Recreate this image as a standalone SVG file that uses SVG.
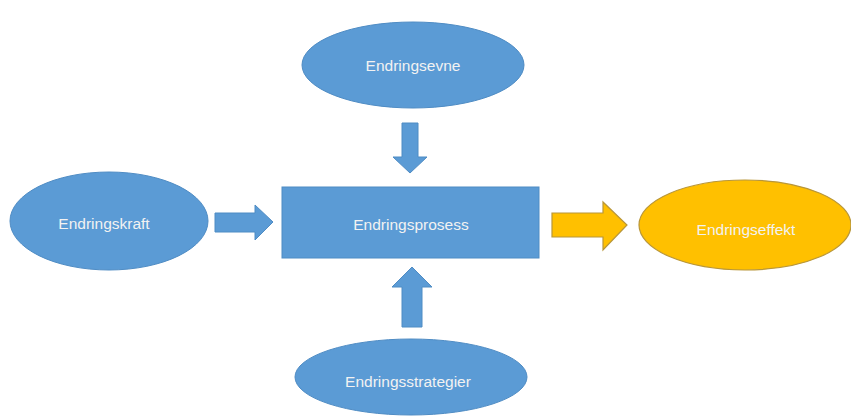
<svg xmlns="http://www.w3.org/2000/svg" width="851" height="416" viewBox="0 0 851 416">
<style>
.b{fill:#5B9BD5;stroke:#4F8CC4;stroke-width:1}
.y{fill:#FFC000;stroke:#B8963A;stroke-width:1.2}
.t{font-family:"Liberation Sans",Arial,sans-serif;font-size:15.5px;fill:#F2F2F2;text-anchor:middle;dominant-baseline:central}
</style>
<rect width="851" height="416" fill="#FFFFFF"/>
<g id="connectors">
<polygon class="b" points="402,123 418,123 418,157 427,157 410,173 393,157 402,157"/>
<polygon class="b" points="402,327 422,327 422,287 432,287 412,267 392,287 402,287"/>
<polygon class="b" points="215,213 255,213 255,205 273,222 255,240 255,232 215,232"/>
<polygon class="y" points="552,213 603,213 603,202 627,225 603,250 603,237 552,237"/>
</g>
<g id="endringsevne">
<ellipse class="b" cx="413" cy="65" rx="111" ry="43"/>
<text class="t" x="413" y="65">Endringsevne</text>
</g>
<g id="endringskraft">
<ellipse class="b" cx="109" cy="221" rx="99" ry="49"/>
<text class="t" x="104" y="223">Endringskraft</text>
</g>
<g id="endringsprosess">
<rect class="b" x="282" y="187" width="257" height="71"/>
<text class="t" x="411" y="224">Endringsprosess</text>
</g>
<g id="endringseffekt">
<ellipse class="y" cx="745" cy="225" rx="106" ry="45"/>
<text class="t" x="746" y="229">Endringseffekt</text>
</g>
<g id="endringsstrategier">
<ellipse class="b" cx="411" cy="377" rx="116" ry="38"/>
<text class="t" x="408" y="381">Endringsstrategier</text>
</g>
</svg>
